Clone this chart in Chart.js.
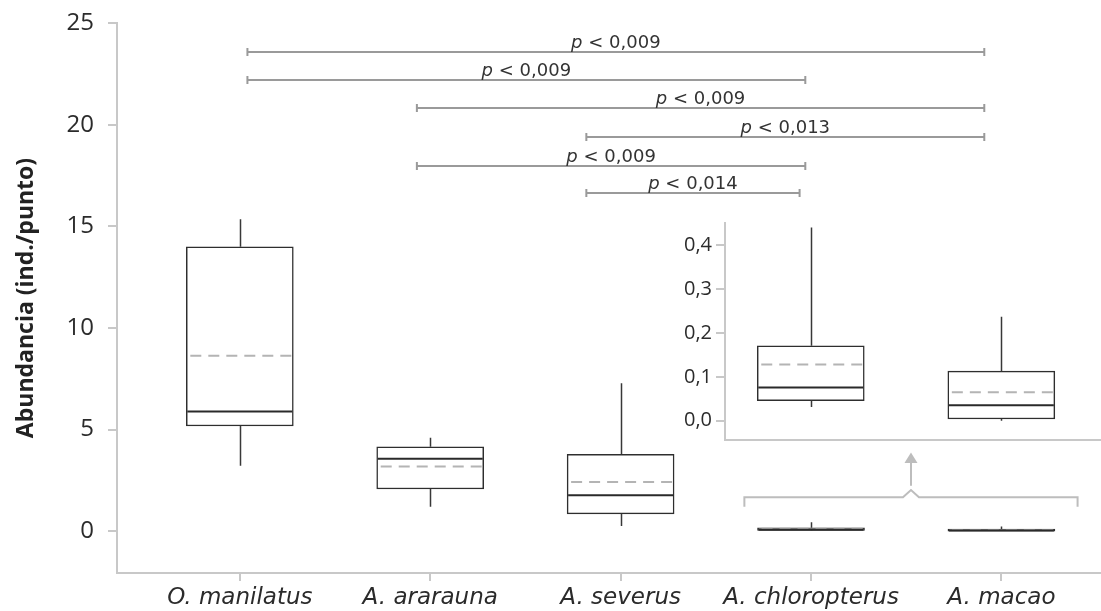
<!DOCTYPE html>
<html>
<head>
<meta charset="utf-8">
<script src="https://cdn.jsdelivr.net/npm/chart.js@4.4.1/dist/chart.umd.min.js"></script>
<style>
body { margin: 0; background: #fff; }
#marco { position: relative; width: 1101px; height: 611px; }
#principal { position: absolute; left: 0; top: 0; }
#detalle { position: absolute; left: 640px; top: 200px; }
</style>
</head>
<body>
<div id="marco">
  <canvas id="principal" width="1101" height="611"></canvas>
  <canvas id="detalle" width="461" height="260"></canvas>
</div>
<script>
// Datos del grafico (abundancia por especie)
const especies = ["O. manilatus", "A. ararauna", "A. severus", "A. chloropterus", "A. macao"];
const minimos  = [3.22, 1.21, 0.26, 0.031, 0.000];
const cuartil1 = [5.18, 2.08, 0.86, 0.046, 0.004];
const medianas = [5.89, 3.57, 1.78, 0.076, 0.035];
const medias   = [8.64, 3.19, 2.42, 0.128, 0.065];
const cuartil3 = [13.99, 4.16, 3.79, 0.171, 0.113];
const maximos  = [15.35, 4.60, 7.28, 0.441, 0.237];

const ticksY = [0, 5, 10, 15, 20, 25];
const ticksDetalle = [0, 0.1, 0.2, 0.3, 0.4];
const enDetalle = [3, 4];

const compDesde  = [0.04, 0.04, 0.93, 1.82, 0.93, 1.82];
const compHasta  = [3.91, 2.97, 3.91, 3.91, 2.97, 2.94];
const compAltura = [23.58, 22.19, 20.83, 19.40, 17.96, 16.65];
const compValorP = ["0,009", "0,009", "0,009", "0,013", "0,009", "0,014"];

// Llave y flecha que indican la ampliacion
const llave = { desde: 2.65, hasta: 4.40, base: 1.21, linea: 1.67, pico: 2.03 };
const flecha = { desde: 2.24, base: 3.36, punta: 3.88 };

const GRIS_EJE = '#c8c8c8';
Chart.defaults.font.family = '"Open Sans", sans-serif';
Chart.defaults.color = '#2b2b2b';

//Plugin para bigotes, medianas y medias
function pluginCajas(indices) {
    return {
        id: 'cajas',
        afterDatasetsDraw(chart) {
            const ctx = chart.ctx;
            const y = chart.scales.y;
            const area = chart.chartArea;
            const barras = chart.getDatasetMeta(0).data;
            ctx.save();
            ctx.beginPath();
            ctx.rect(area.left, area.top - 5, area.right - area.left, area.bottom - area.top + 10);
            ctx.clip();
            indices.forEach(function (i, k) {
                const barra = barras[k];
                const cx = Math.round(barra.x) + 0.5;
                const izq = barra.x - barra.width / 2 + 1;
                const der = barra.x + barra.width / 2 - 1;

                //bigotes
                ctx.strokeStyle = '#383838';
                ctx.lineWidth = 1.5;
                ctx.setLineDash([]);
                ctx.beginPath();
                ctx.moveTo(cx, y.getPixelForValue(cuartil3[i]));
                ctx.lineTo(cx, y.getPixelForValue(maximos[i]));
                ctx.moveTo(cx, y.getPixelForValue(cuartil1[i]));
                ctx.lineTo(cx, y.getPixelForValue(minimos[i]));
                ctx.stroke();

                //media
                ctx.strokeStyle = '#b4b4b4';
                ctx.lineWidth = 2;
                ctx.setLineDash([11, 7]);
                ctx.lineDashOffset = -3;
                ctx.beginPath();
                ctx.moveTo(izq, y.getPixelForValue(medias[i]));
                ctx.lineTo(der, y.getPixelForValue(medias[i]));
                ctx.stroke();

                //mediana
                ctx.strokeStyle = '#2a2a2a';
                ctx.lineWidth = 2;
                ctx.setLineDash([]);
                ctx.beginPath();
                ctx.moveTo(izq, y.getPixelForValue(medianas[i]));
                ctx.lineTo(der, y.getPixelForValue(medianas[i]));
                ctx.stroke();
            });
            ctx.restore();
        }
    };
}

//Plugin para las barras de comparacion, la llave y la flecha
const pluginAnotaciones = {
    id: 'anotaciones',
    afterDraw(chart) {
        const ctx = chart.ctx;
        const x = chart.scales.x;
        const y = chart.scales.y;
        ctx.save();

        compDesde.forEach(function (desde, k) {
            const x1 = x.getPixelForValue(desde);
            const x2 = x.getPixelForValue(compHasta[k]);
            const yy = Math.round(y.getPixelForValue(compAltura[k]));
            ctx.strokeStyle = '#9a9a9a';
            ctx.lineWidth = 2;
            ctx.beginPath();
            ctx.moveTo(x1, yy);
            ctx.lineTo(x2, yy);
            ctx.moveTo(x1, yy - 4);
            ctx.lineTo(x1, yy + 4);
            ctx.moveTo(x2, yy - 4);
            ctx.lineTo(x2, yy + 4);
            ctx.stroke();

            const fuenteP = 'italic 18px "DejaVu Sans"';
            const fuenteT = '18px "DejaVu Sans"';
            const resto = ' < ' + compValorP[k];
            ctx.font = fuenteP;
            const anchoP = ctx.measureText('p').width;
            ctx.font = fuenteT;
            const anchoT = ctx.measureText(resto).width;
            let inicio = (x1 + x2) / 2 - (anchoP + anchoT) / 2;
            ctx.fillStyle = '#333';
            ctx.textBaseline = 'alphabetic';
            ctx.textAlign = 'left';
            ctx.font = fuenteP;
            ctx.fillText('p', inicio, yy - 4);
            ctx.font = fuenteT;
            ctx.fillText(resto, inicio + anchoP, yy - 4);
        });

        //llave
        const xa = x.getPixelForValue(llave.desde);
        const xb = x.getPixelForValue(llave.hasta);
        const xm = (xa + xb) / 2;
        const yl = y.getPixelForValue(llave.linea);
        const yp = y.getPixelForValue(llave.pico);
        ctx.strokeStyle = '#bdbdbd';
        ctx.fillStyle = '#bdbdbd';
        ctx.lineWidth = 2;
        ctx.beginPath();
        ctx.moveTo(xa, y.getPixelForValue(llave.base));
        ctx.lineTo(xa, yl);
        ctx.lineTo(xm - 8, yl);
        ctx.lineTo(xm, yp);
        ctx.lineTo(xm + 8, yl);
        ctx.lineTo(xb, yl);
        ctx.lineTo(xb, y.getPixelForValue(llave.base));
        ctx.stroke();

        //flecha
        ctx.beginPath();
        ctx.moveTo(xm, y.getPixelForValue(flecha.desde));
        ctx.lineTo(xm, y.getPixelForValue(flecha.base));
        ctx.stroke();
        ctx.beginPath();
        ctx.moveTo(xm - 6.5, y.getPixelForValue(flecha.base));
        ctx.lineTo(xm + 6.5, y.getPixelForValue(flecha.base));
        ctx.lineTo(xm, y.getPixelForValue(flecha.punta));
        ctx.closePath();
        ctx.fill();

        ctx.restore();
    }
};

function datosCajas(indices) {
    return indices.map(function (i) {
        return { x: i, y: [cuartil1[i], cuartil3[i]] };
    });
}

const todas = especies.map(function (e, i) { return i; });

//Grafico principal
new Chart(document.getElementById('principal'), {
    type: 'bar',
    data: {
        datasets: [{
            data: datosCajas(todas),
            backgroundColor: '#ffffff',
            borderColor: '#2e2e2e',
            borderWidth: 1.5,
            borderSkipped: false,
            barThickness: 107,
            grouped: false
        }]
    },
    options: {
        responsive: false,
        animation: false,
        devicePixelRatio: 1,
        layout: { padding: { top: 23, right: 0, bottom: 0, left: 0 } },
        plugins: { legend: { display: false }, tooltip: { enabled: false } },
        scales: {
            x: {
                type: 'linear',
                min: -0.645,
                max: 4.523,
                offset: false,
                afterBuildTicks(scale) {
                    scale.ticks = todas.map(function (v) { return { value: v }; });
                },
                afterFit(scale) { scale.height = 38; },
                ticks: {
                    autoSkip: false,
                    maxRotation: 0,
                    padding: 3,
                    color: '#2b2b2b',
                    font: { family: '"DejaVu Sans"', size: 23, style: 'italic' },
                    callback: function (v) { return especies[v]; }
                },
                grid: { offset: false, drawOnChartArea: false, color: GRIS_EJE, lineWidth: 2, tickLength: 8 },
                border: { color: GRIS_EJE, width: 2 }
            },
            y: {
                min: -2.05,
                max: 25,
                afterBuildTicks(scale) {
                    scale.ticks = ticksY.map(function (v) { return { value: v }; });
                },
                afterFit(scale) {
                    scale.width = 117;
                    scale.paddingTop = 0;
                    scale.paddingBottom = 0;
                },
                ticks: {
                    padding: 14,
                    color: '#2b2b2b',
                    font: { size: 24 }
                },
                grid: { drawOnChartArea: false, color: GRIS_EJE, lineWidth: 2, tickLength: 9 },
                border: { color: GRIS_EJE, width: 2 },
                title: {
                    display: true,
                    text: 'Abundancia (ind./punto)',
                    color: '#222',
                    font: { size: 23, weight: 'bold' },
                    padding: { top: 13, bottom: 0 }
                }
            }
        }
    },
    plugins: [pluginCajas(todas), pluginAnotaciones]
});

//Grafico ampliado de las especies con valores pequenos
new Chart(document.getElementById('detalle'), {
    type: 'bar',
    data: {
        datasets: [{
            data: datosCajas(enDetalle),
            backgroundColor: '#ffffff',
            borderColor: '#2e2e2e',
            borderWidth: 1.5,
            borderSkipped: false,
            barThickness: 107,
            grouped: false
        }]
    },
    options: {
        responsive: false,
        animation: false,
        devicePixelRatio: 1,
        layout: { padding: { top: 23, right: 0, bottom: 0, left: 0 } },
        plugins: { legend: { display: false }, tooltip: { enabled: false } },
        scales: {
            x: {
                type: 'linear',
                min: 2.55,
                max: 4.523,
                offset: false,
                afterFit(scale) { scale.height = 20; },
                ticks: { display: false },
                grid: { drawOnChartArea: false, drawTicks: false },
                border: { color: GRIS_EJE, width: 2 }
            },
            y: {
                min: -0.044,
                max: 0.451,
                afterBuildTicks(scale) {
                    scale.ticks = ticksDetalle.map(function (v) { return { value: v }; });
                },
                afterFit(scale) {
                    scale.width = 85;
                    scale.paddingTop = 0;
                    scale.paddingBottom = 0;
                },
                ticks: {
                    padding: 4,
                    color: '#2b2b2b',
                    font: { size: 20 },
                    callback: function (v) { return v.toFixed(1).replace('.', ','); }
                },
                grid: { drawOnChartArea: false, color: GRIS_EJE, lineWidth: 2, tickLength: 9 },
                border: { color: GRIS_EJE, width: 2 }
            }
        }
    },
    plugins: [pluginCajas(enDetalle)]
});
</script>
</body>
</html>
